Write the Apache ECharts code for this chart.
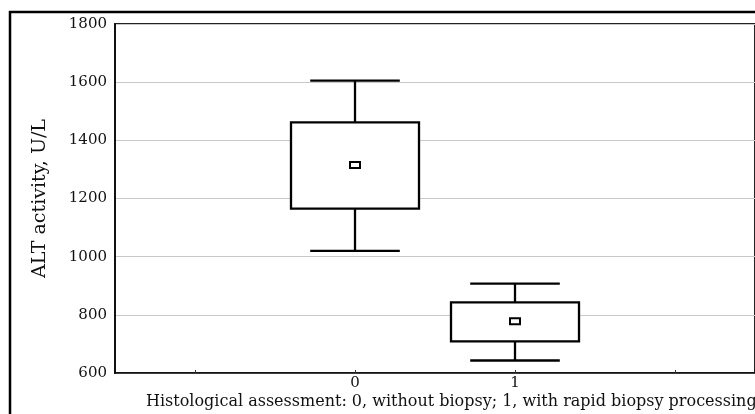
<!DOCTYPE html>
<html>
<head>
<meta charset="utf-8">
<script src="https://cdn.jsdelivr.net/npm/echarts@6/dist/echarts.min.js"></script>
<style>
html,body{margin:0;padding:0;background:#fff;}
#chart{width:755px;height:414px;}
</style>
</head>
<body>
<div id="chart"></div>
<script>
var categories = ['', '0', '1', ''];
var groupIndex = [1, 2];
var whiskerLow = [1020, 643];
var boxLow = [1165, 709];
var meanVal = [1315, 778];
var boxHigh = [1462, 843];
var whiskerHigh = [1605, 907];
var yTicks = [600, 800, 1000, 1200, 1400, 1600, 1800];

var FONT = 'DejaVu Serif';
var data = groupIndex.map(function (g, i) {
  return [g, whiskerLow[i], boxLow[i], meanVal[i], boxHigh[i], whiskerHigh[i]];
});

var chart = echarts.init(document.getElementById('chart'));
chart.setOption({
  animation: false,
  backgroundColor: '#fff',
  grid: { left: 115, right: -2, top: 24, bottom: 41, show: true, borderColor: '#222', borderWidth: 2 },
  xAxis: {
    type: 'category',
    data: categories,
    axisLine: { show: true, lineStyle: { color: '#111', width: 1.5 } },
    axisTick: { show: true, alignWithLabel: true, inside: true, length: 3, lineStyle: { color: '#333' } },
    axisLabel: { color: '#111', fontFamily: FONT, fontSize: 15, margin: 3 },
    splitLine: { show: false }
  },
  yAxis: {
    type: 'value',
    min: yTicks[0],
    max: yTicks[yTicks.length - 1],
    interval: 200,
    name: 'ALT activity, U/L',
    nameLocation: 'middle',
    nameGap: 65,
    nameTextStyle: { color: '#111', fontFamily: FONT, fontSize: 19 },
    axisLine: { show: true, lineStyle: { color: '#111', width: 2 } },
    axisTick: { show: false },
    axisLabel: { color: '#111', fontFamily: FONT, fontSize: 15, margin: 8, formatter: function (v) { return String(v); } },
    splitLine: { show: true, lineStyle: { color: '#c8c8c8', width: 1 } }
  },
  graphic: [
    { type: 'rect', shape: { x: 10, y: 12, width: 800, height: 450 }, style: { fill: 'none', stroke: '#000', lineWidth: 2.5 }, z: 100 },
    { type: 'text', left: 146, top: 394, style: { text: 'Histological assessment: 0, without biopsy; 1, with rapid biopsy processing', fill: '#111', font: '16px "DejaVu Serif"' } }
  ],
  series: [{
    type: 'custom',
    data: data,
    renderItem: function (params, api) {
      var x = api.value(0);
      var band = api.size([1, 0])[0];
      var bw = band * 0.8, cw = band * 0.56;
      var pWL = api.coord([x, api.value(1)]);
      var pBL = api.coord([x, api.value(2)]);
      var pM = api.coord([x, api.value(3)]);
      var pBH = api.coord([x, api.value(4)]);
      var pWH = api.coord([x, api.value(5)]);
      var cx = pM[0];
      var st = { stroke: '#000', lineWidth: 2.3, fill: 'none' };
      return {
        type: 'group',
        children: [
          { type: 'line', shape: { x1: cx, y1: pBL[1], x2: cx, y2: pWL[1] }, style: st },
          { type: 'line', shape: { x1: cx, y1: pBH[1], x2: cx, y2: pWH[1] }, style: st },
          { type: 'line', shape: { x1: cx - cw / 2, y1: pWL[1], x2: cx + cw / 2, y2: pWL[1] }, style: st },
          { type: 'line', shape: { x1: cx - cw / 2, y1: pWH[1], x2: cx + cw / 2, y2: pWH[1] }, style: st },
          { type: 'rect', shape: { x: cx - bw / 2, y: pBH[1], width: bw, height: pBL[1] - pBH[1] }, style: { stroke: '#000', lineWidth: 2.3, fill: '#fff' } },
          { type: 'rect', shape: { x: cx - 5, y: pM[1] - 3, width: 10, height: 6 }, style: { stroke: '#000', lineWidth: 2, fill: '#fff' } }
        ]
      };
    }
  }]
});
</script>
</body>
</html>
